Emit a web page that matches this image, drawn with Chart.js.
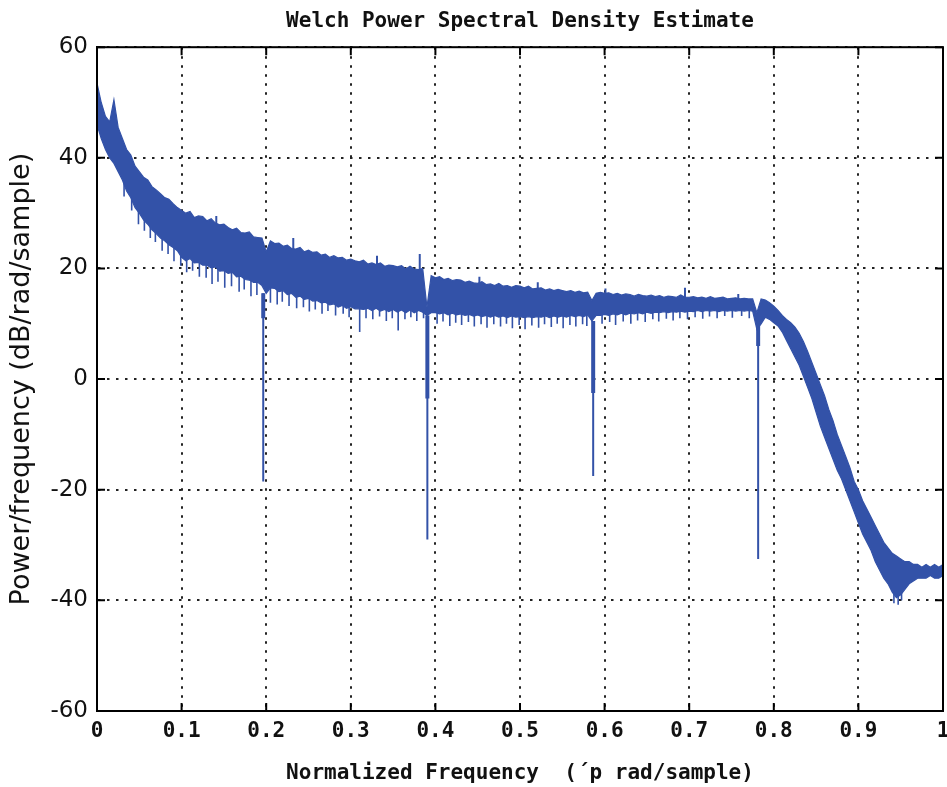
<!DOCTYPE html>
<html><head><meta charset="utf-8">
<script src="https://cdn.jsdelivr.net/npm/chart.js@4.4.1/dist/chart.umd.min.js"></script>
<style>html,body{margin:0;padding:0;background:#fff;} canvas{display:block;}</style>
</head><body>
<canvas id="c" width="947" height="787"></canvas>
<script>
const FREQ_STEP = 0.005;
const upperDb = [
 53.5, 50.0, 47.5, 46.5, 50.5, 45.5, 43.5, 41.5, 40.5, 38.5,
 37.5, 36.5, 36.0, 34.8, 34.2, 33.5, 32.8, 32.5, 31.7, 31.0,
 30.5, 30.0, 30.3, 29.2, 29.5, 29.4, 28.6, 29.0, 28.2, 27.9,
 28.0, 27.4, 27.0, 27.3, 26.5, 26.4, 26.6, 25.7, 25.6, 25.5,
 23.0, 25.0, 24.5, 24.6, 24.0, 24.2, 23.6, 23.5, 23.8, 23.0,
 23.3, 22.9, 23.0, 22.4, 22.6, 22.0, 22.3, 21.9, 22.0, 21.5,
 21.7, 21.4, 21.2, 21.5, 20.8, 21.0, 20.7, 21.0, 20.4, 20.6,
 20.5, 20.3, 20.5, 19.9, 20.4, 19.9, 19.8, 20.0, 13.0, 18.7,
 18.3, 18.5, 18.0, 18.2, 17.8, 18.0, 17.9, 17.5, 17.7, 17.4,
 17.3, 17.6, 17.1, 17.2, 16.9, 17.3, 16.8, 16.9, 16.6, 16.9,
 16.8, 16.5, 16.8, 16.3, 16.4, 16.5, 16.1, 16.3, 16.0, 16.2,
 16.0, 15.8, 16.0, 15.7, 15.9, 15.6, 15.7, 14.2, 15.5, 15.7,
 15.5, 15.6, 15.3, 15.5, 15.2, 15.4, 15.3, 15.0, 15.3, 15.1,
 15.0, 15.2, 14.9, 15.1, 14.8, 15.0, 14.9, 14.8, 15.2, 14.8,
 14.8, 14.9, 14.7, 14.8, 14.6, 14.9, 14.6, 14.7, 14.8, 14.5,
 14.6, 14.7, 14.5, 14.6, 14.5, 14.5, 12.0, 14.5, 14.3, 13.8,
 13.2, 12.4, 11.5, 10.8, 10.2, 9.4, 8.3, 6.8, 5.0, 3.0,
 1.0, -1.0, -3.0, -5.5, -7.5, -10.0, -12.0, -14.0, -16.0, -18.5,
 -20.0, -22.0, -23.5, -25.0, -26.5, -28.0, -29.5, -30.5, -31.5, -32.0,
 -32.5, -33.0, -33.0, -33.5, -33.5, -34.0, -33.5, -34.0, -33.5, -34.0, -33.5
];
const lowerDb = [
 46.0, 43.5, 41.5, 40.0, 39.0, 37.5, 36.0, 34.0, 32.8, 31.0,
 30.0, 28.8, 28.0, 27.0, 26.3, 25.5, 25.0, 24.3, 23.8, 23.2,
 22.0, 21.4, 21.8, 21.0, 21.1, 20.6, 20.6, 20.1, 20.3, 19.5,
 19.6, 19.1, 19.3, 18.5, 18.6, 18.0, 17.9, 17.5, 17.5, 16.9,
 15.5, 16.5, 16.4, 15.8, 16.0, 15.3, 15.5, 14.8, 15.0, 14.4,
 14.6, 14.1, 14.2, 13.8, 13.9, 13.4, 13.6, 13.0, 13.3, 12.8,
 13.1, 12.7, 12.7, 12.6, 12.8, 12.4, 12.8, 12.3, 12.6, 12.2,
 12.6, 12.1, 12.5, 12.0, 12.5, 12.0, 12.4, 12.1, 11.5, 12.0,
 12.0, 11.8, 12.0, 11.6, 11.9, 11.6, 11.8, 11.5, 11.7, 11.4,
 11.6, 11.3, 11.5, 11.2, 11.5, 11.2, 11.4, 11.1, 11.4, 11.2,
 11.3, 11.1, 11.3, 11.1, 11.3, 11.2, 11.4, 11.1, 11.4, 11.2,
 11.4, 11.2, 11.5, 11.3, 11.5, 11.3, 11.6, 10.5, 11.5, 11.5,
 11.7, 11.5, 11.8, 11.6, 11.9, 11.6, 11.9, 11.8, 12.0, 11.8,
 12.1, 11.9, 12.1, 12.0, 12.2, 12.0, 12.2, 12.1, 12.3, 12.1,
 12.3, 12.2, 12.4, 12.2, 12.4, 12.3, 12.4, 12.2, 12.4, 12.3,
 12.4, 12.3, 12.4, 12.3, 12.4, 12.3, 9.0, 10.0, 11.2, 10.8,
 10.2, 9.6, 8.5, 7.0, 5.5, 4.0, 2.5, 0.5, -1.5, -3.5,
 -6.0, -8.5, -10.5, -12.5, -14.5, -16.5, -18.0, -20.0, -22.0, -24.0,
 -26.0, -28.0, -29.5, -31.0, -33.0, -34.5, -36.0, -37.0, -38.5, -39.5,
 -39.0, -38.0, -37.0, -36.5, -36.0, -36.0, -36.0, -35.5, -36.0, -36.0, -35.5
];
// short downward needles on the lower edge (frequency, lowest dB)
const needleFreq = [
 0.032, 0.041, 0.049, 0.056, 0.063, 0.069, 0.077, 0.084, 0.091, 0.099,
 0.106, 0.113, 0.121, 0.129, 0.136, 0.143, 0.151, 0.159, 0.168, 0.174,
 0.182, 0.189, 0.205, 0.213, 0.219, 0.227, 0.236, 0.244, 0.251, 0.258,
 0.266, 0.273, 0.282, 0.291, 0.298, 0.3105, 0.318, 0.326, 0.334, 0.342,
 0.349, 0.356, 0.364, 0.371, 0.378, 0.386, 0.402, 0.409, 0.417, 0.424,
 0.431, 0.439, 0.446, 0.454, 0.461, 0.469, 0.477, 0.484, 0.491, 0.499,
 0.506, 0.514, 0.522, 0.529, 0.537, 0.544, 0.551, 0.559, 0.566, 0.574,
 0.579, 0.597, 0.606, 0.613, 0.622, 0.631, 0.639, 0.648, 0.657, 0.664,
 0.673, 0.681, 0.689, 0.698, 0.707, 0.716, 0.724, 0.733, 0.742, 0.751,
 0.762, 0.771, 0.942, 0.947, 0.951];
const needleDb = [
 33.0, 30.5, 28.0, 26.8, 25.5, 24.8, 23.2, 22.6, 21.3, 20.5,
 19.3, 19.6, 18.5, 18.3, 17.2, 17.6, 16.5, 16.8, 15.8, 16.2,
 15.0, 15.2, 13.8, 13.5, 14.0, 13.2, 12.8, 13.0, 12.2, 12.6,
 11.8, 12.3, 11.5, 11.8, 11.2, 8.5, 11.0, 10.8, 11.3, 10.5,
 11.0, 8.8, 10.8, 11.2, 10.5, 11.0, 10.0, 10.4, 9.6, 10.2,
 9.8, 10.3, 9.5, 9.9, 9.3, 9.9, 9.5, 10.0, 9.2, 9.8,
 9.0, 9.7, 9.3, 9.9, 9.4, 10.0, 9.2, 9.8, 9.5, 9.9,
 9.6, 10.0, 10.3, 9.8, 10.4, 10.0, 10.6, 10.3, 10.8, 10.4,
 10.9, 10.6, 11.0, 10.8, 11.2, 10.9, 11.3, 11.0, 11.4, 11.1,
 11.4, 11.0, -40.5, -40.8, -40.0];
// thin upward spikes on the upper edge
const spikeFreq = [0.3815, 0.695, 0.141, 0.232, 0.331, 0.452, 0.521, 0.601, 0.758];
const spikeTopDb = [22.6, 16.5, 29.5, 25.5, 22.3, 18.5, 17.5, 16.4, 15.4];
// notches
const notchFreq = [0.1965, 0.3905, 0.5865, 0.7815];
const notchTopDb = [15.5, 11.5, 10.5, 11.0];
const notchShoulderDb = [11.0, -3.5, -2.5, 6.0];
const notchFloorDb = [-18.5, -29.0, -17.5, -32.5];
const xTicks = [0, 0.1, 0.2, 0.3, 0.4, 0.5, 0.6, 0.7, 0.8, 0.9, 1];
const xTickLabels = ['0', '0.1', '0.2', '0.3', '0.4', '0.5', '0.6', '0.7', '0.8', '0.9', '1'];
const yTicks = [-60, -40, -20, 0, 20, 40, 60];
const yTickLabels = ['-60', '-40', '-20', '0', '20', '40', '60'];

const BLUE = 'rgb(51, 82, 168)';
const freq = upperDb.map((_, i) => +(i * FREQ_STEP).toFixed(3));
const upperPts = upperDb.map((y, i) => ({x: freq[i], y}));
const lowerPts = lowerDb.map((y, i) => ({x: freq[i], y}));
const near = (arr, x) => arr[Math.round(x / FREQ_STEP)];
function segs(xs, a, b) {
  const out = [];
  xs.forEach((x, i) => { out.push({x, y: a[i]}, {x, y: b[i]}, {x, y: null}); });
  return out;
}
const needleTop = needleFreq.map(x => near(lowerDb, x) + 0.8);
const spikeBase = spikeFreq.map(x => near(upperDb, x) - 1);

const framePlugin = {
  id: 'frame',
  afterDraw(chart) {
    const {ctx, chartArea: a, scales} = chart;
    ctx.save();
    ctx.strokeStyle = '#000';
    ctx.lineWidth = 2;
    ctx.setLineDash([]);
    ctx.strokeRect(a.left, a.top, a.right - a.left, a.bottom - a.top);
    const L = 8;
    ctx.beginPath();
    xTicks.forEach(v => {
      const px = scales.x.getPixelForValue(v);
      ctx.moveTo(px, a.top); ctx.lineTo(px, a.top + L);
      ctx.moveTo(px, a.bottom); ctx.lineTo(px, a.bottom - L);
    });
    yTicks.forEach(v => {
      const py = scales.y.getPixelForValue(v);
      ctx.moveTo(a.left, py); ctx.lineTo(a.left + L, py);
      ctx.moveTo(a.right, py); ctx.lineTo(a.right - L, py);
    });
    ctx.stroke();
    ctx.restore();
  }
};

const monoFont = {family: "'DejaVu Sans Mono'", size: 21, weight: 'bold', lineHeight: 1.2};

new Chart(document.getElementById('c'), {
  type: 'line',
  data: {
    datasets: [
      {data: upperPts, borderColor: BLUE, backgroundColor: BLUE, borderWidth: 1.2, pointRadius: 0, fill: '+1', tension: 0},
      {data: lowerPts, borderColor: BLUE, backgroundColor: BLUE, borderWidth: 1.2, pointRadius: 0, fill: false, tension: 0},
      {data: segs(needleFreq, needleTop, needleDb), borderColor: BLUE, borderWidth: 1.6, pointRadius: 0, fill: false, spanGaps: false},
      {data: segs(spikeFreq, spikeBase, spikeTopDb), borderColor: BLUE, borderWidth: 2, pointRadius: 0, fill: false, spanGaps: false},
      {data: segs(notchFreq, notchTopDb, notchFloorDb), borderColor: BLUE, borderWidth: 2, pointRadius: 0, fill: false, spanGaps: false},
      {data: segs(notchFreq, notchTopDb, notchShoulderDb), borderColor: BLUE, borderWidth: 4, pointRadius: 0, fill: false, spanGaps: false}
    ]
  },
  options: {
    responsive: false,
    animation: false,
    events: [],
    layout: {padding: {left: 0, right: 4, top: 0, bottom: 0}},
    plugins: {
      legend: {display: false},
      tooltip: {enabled: false},
      title: {
        display: true,
        text: 'Welch Power Spectral Density Estimate',
        fullSize: false,
        color: '#111',
        font: monoFont,
        padding: {top: 9, bottom: 13}
      }
    },
    scales: {
      x: {
        type: 'linear', min: 0, max: 1,
        afterBuildTicks: s => { s.ticks = xTicks.map(v => ({value: v})); },
        afterFit: s => { s.height = 76; s.paddingLeft = 0; s.paddingRight = 0; },
        ticks: {
          callback: (v, i) => xTickLabels[i],
          color: '#111', padding: 8, maxRotation: 0, autoSkip: false,
          font: monoFont
        },
        grid: {color: '#222', lineWidth: 2, drawTicks: false},
        border: {display: true, color: '#000', width: 2, dash: [2.5, 6.5]},
        title: {
          display: true,
          text: 'Normalized Frequency  (´p rad/sample)',
          color: '#111',
          font: monoFont,
          padding: {top: 0, bottom: 1}
        }
      },
      y: {
        type: 'linear', min: -60, max: 60,
        afterBuildTicks: s => { s.ticks = yTicks.map(v => ({value: v})); },
        afterFit: s => { s.width = 97; },
        ticks: {
          callback: (v, i) => yTickLabels[i],
          color: '#111', padding: 9,
          font: {family: "'DejaVu Sans'", size: 23}
        },
        grid: {color: '#222', lineWidth: 2, drawTicks: false},
        border: {display: true, color: '#000', width: 2, dash: [2.5, 6.5]},
        title: {
          display: true,
          text: 'Power/frequency (dB/rad/sample)',
          color: '#111',
          font: {family: "'DejaVu Sans'", size: 27, lineHeight: 1.2},
          padding: {top: 6, bottom: 0}
        }
      }
    }
  },
  plugins: [framePlugin]
});
</script>
</body></html>
